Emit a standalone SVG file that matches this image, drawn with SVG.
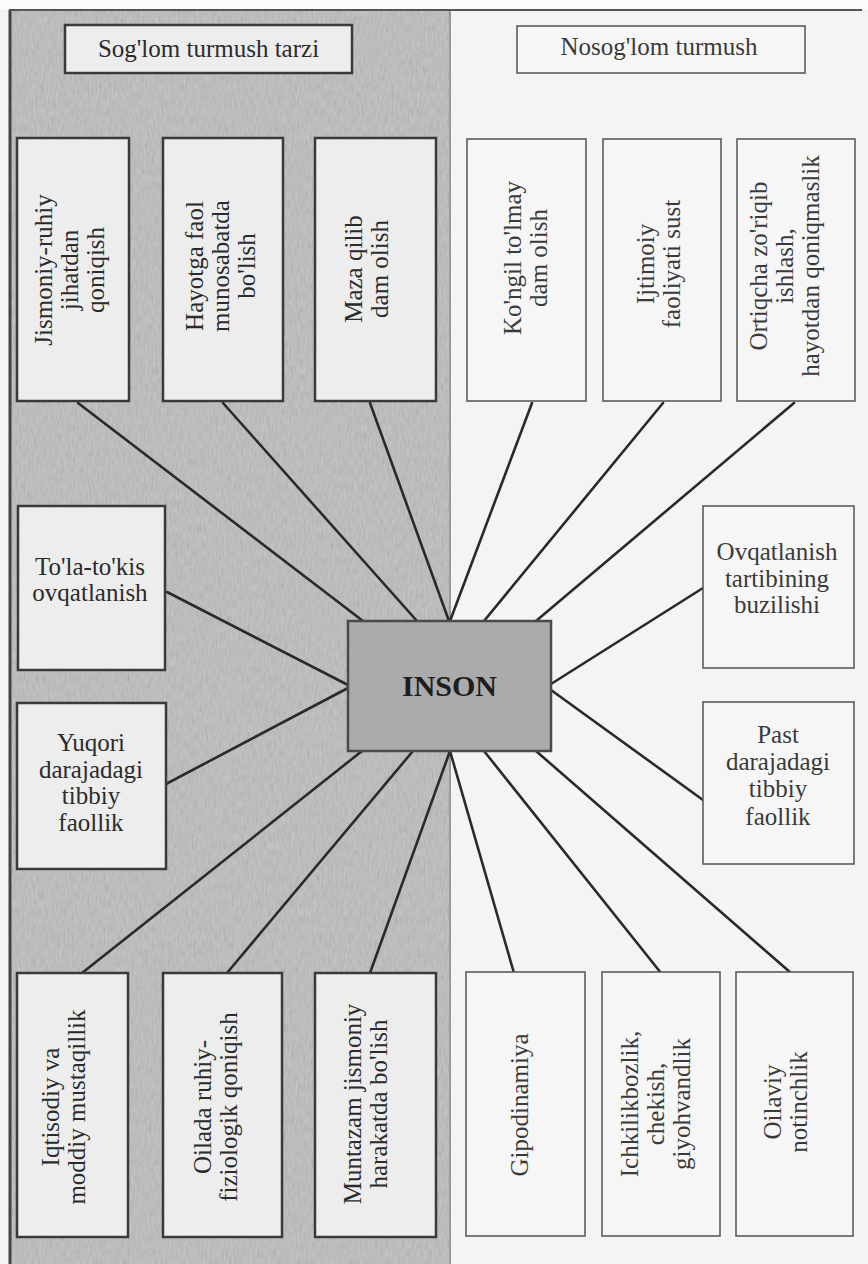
<svg xmlns="http://www.w3.org/2000/svg" width="868" height="1264" viewBox="0 0 868 1264">
<style>
.t{font-family:"Liberation Serif","Times New Roman",serif;font-size:25px;fill:#2b2b2b;text-anchor:middle}
.tr{fill:#3a3a3a}
.b{font-weight:bold;font-size:30px;fill:#1e1e1e}
.boxL{fill:#ededed;stroke:#3a3a3a;stroke-width:2.5}
.boxR{fill:#f6f6f6;stroke:#5c5c5c;stroke-width:1.6}
.core{fill:#ababab;stroke:#4a4a4a;stroke-width:2.5}
#connectors line{stroke:#2a2a2a;stroke-width:2.6;stroke-linecap:round}
</style>
<defs>
<filter id="grain" x="0" y="0" width="100%" height="100%">
<feTurbulence type="fractalNoise" baseFrequency="0.5 0.12" numOctaves="3" seed="7"/>
<feColorMatrix type="matrix" values="0.33 0.33 0.33 0 0 0.33 0.33 0.33 0 0 0.33 0.33 0.33 0 0 0 0 0 0 1"/>
</filter>
</defs>
<rect x="0" y="0" width="868" height="1264" fill="#f4f4f4"/>
<rect x="0" y="0" width="868" height="9" fill="#fbfbfb"/>
<g id="panel-left">
<rect x="9" y="10" width="442" height="1254" fill="#bdbdbd"/>
<rect x="9" y="10" width="442" height="1254" fill="#888" filter="url(#grain)" opacity="0.28"/>
<line x1="10" y1="10" x2="10" y2="1264" stroke="#444" stroke-width="3"/>
<line x1="450" y1="10" x2="450" y2="1264" stroke="#9a9a9a" stroke-width="2"/>
</g>
<line x1="9" y1="10" x2="862" y2="10" stroke="#555" stroke-width="2"/>

<g id="connectors">
<line x1="78" y1="403" x2="363" y2="621"/>
<line x1="223" y1="403" x2="417" y2="621"/>
<line x1="370" y1="403" x2="449" y2="621"/>
<line x1="532" y1="403" x2="450" y2="621"/>
<line x1="663" y1="403" x2="484" y2="621"/>
<line x1="794" y1="403" x2="536" y2="621"/>
<line x1="167" y1="592" x2="348" y2="685"/>
<line x1="166" y1="784" x2="348" y2="688"/>
<line x1="703" y1="588" x2="551" y2="684"/>
<line x1="551" y1="690" x2="703" y2="800"/>
<line x1="362" y1="751" x2="82" y2="973"/>
<line x1="413" y1="751" x2="227" y2="973"/>
<line x1="450" y1="751" x2="370" y2="973"/>
<line x1="450" y1="751" x2="514" y2="973"/>
<line x1="484" y1="751" x2="661" y2="973"/>
<line x1="536" y1="751" x2="791" y2="973"/>
</g>

<g id="title-left">
<rect class="boxL" x="65" y="25" width="287" height="48"/>
<text class="t" x="208.5" y="57">Sog'lom turmush tarzi</text>
</g>
<g id="title-right">
<rect class="boxR" x="517" y="26" width="288" height="47"/>
<text class="t tr" x="659" y="55">Nosog'lom turmush</text>
</g>

<g id="n-jismoniy">
<rect class="boxL" x="17" y="138" width="112" height="263"/>
<text class="t" transform="translate(73,270) rotate(-90)"><tspan x="0" y="-21">Jismoniy-ruhiy</tspan><tspan x="0" y="5">jihatdan</tspan><tspan x="0" y="31">qoniqish</tspan></text>
</g>
<g id="n-hayotga">
<rect class="boxL" x="163" y="138" width="120" height="263"/>
<text class="t" transform="translate(224,266) rotate(-90)"><tspan x="0" y="-21">Hayotga faol</tspan><tspan x="0" y="5">munosabatda</tspan><tspan x="0" y="31">bo'lish</tspan></text>
</g>
<g id="n-maza">
<rect class="boxL" x="315" y="138" width="121" height="263"/>
<text class="t" transform="translate(370,269) rotate(-90)"><tspan x="0" y="-8">Maza qilib</tspan><tspan x="0" y="18">dam olish</tspan></text>
</g>
<g id="n-kongil">
<rect class="boxR" x="467" y="139" width="119" height="262"/>
<text class="t tr" transform="translate(529,258) rotate(-90)"><tspan x="0" y="-8">Ko'ngil to'lmay</tspan><tspan x="0" y="18">dam olish</tspan></text>
</g>
<g id="n-ijtimoiy">
<rect class="boxR" x="603" y="139" width="118" height="262"/>
<text class="t tr" transform="translate(662,264) rotate(-90)"><tspan x="0" y="-8">Ijtimoiy</tspan><tspan x="0" y="18">faoliyati sust</tspan></text>
</g>
<g id="n-ortiqcha">
<rect class="boxR" x="737" y="139" width="118" height="262"/>
<text class="t tr" transform="translate(788,266) rotate(-90)"><tspan x="0" y="-21">Ortiqcha zo'riqib</tspan><tspan x="0" y="5">ishlash,</tspan><tspan x="0" y="31">hayotdan qoniqmaslik</tspan></text>
</g>

<g id="n-tola">
<rect class="boxL" x="18" y="506" width="147" height="164"/>
<text class="t"><tspan x="90" y="575">To'la-to'kis</tspan><tspan x="90" y="601">ovqatlanish</tspan></text>
</g>
<g id="n-yuqori">
<rect class="boxL" x="17" y="703" width="149" height="166"/>
<text class="t"><tspan x="91" y="751">Yuqori</tspan><tspan x="91" y="778">darajadagi</tspan><tspan x="91" y="804">tibbiy</tspan><tspan x="91" y="831">faollik</tspan></text>
</g>
<g id="n-ovqat">
<rect class="boxR" x="703" y="506" width="151" height="162"/>
<text class="t tr"><tspan x="777" y="560">Ovqatlanish</tspan><tspan x="777" y="587">tartibining</tspan><tspan x="777" y="613">buzilishi</tspan></text>
</g>
<g id="n-past">
<rect class="boxR" x="703" y="702" width="151" height="162"/>
<text class="t tr"><tspan x="778" y="743">Past</tspan><tspan x="778" y="770">darajadagi</tspan><tspan x="778" y="797">tibbiy</tspan><tspan x="778" y="825">faollik</tspan></text>
</g>

<g id="n-inson">
<rect class="core" x="348" y="621" width="203" height="130"/>
<text class="t b" x="449.5" y="696">INSON</text>
</g>

<g id="n-iqtisodiy">
<rect class="boxL" x="17" y="973" width="111" height="264"/>
<text class="t" transform="translate(67,1107) rotate(-90)"><tspan x="0" y="-8">Iqtisodiy va</tspan><tspan x="0" y="18">moddiy mustaqillik</tspan></text>
</g>
<g id="n-oilada">
<rect class="boxL" x="163" y="973" width="119" height="264"/>
<text class="t" transform="translate(219,1107) rotate(-90)"><tspan x="0" y="-8">Oilada ruhiy-</tspan><tspan x="0" y="18">fiziologik qoniqish</tspan></text>
</g>
<g id="n-muntazam">
<rect class="boxL" x="315" y="973" width="121" height="264"/>
<text class="t" transform="translate(369,1104) rotate(-90)"><tspan x="0" y="-8">Muntazam jismoniy</tspan><tspan x="0" y="18">harakatda bo'lish</tspan></text>
</g>
<g id="n-gipodinamiya">
<rect class="boxR" x="466" y="972" width="119" height="264"/>
<text class="t tr" transform="translate(523,1105) rotate(-90)"><tspan x="0" y="5">Gipodinamiya</tspan></text>
</g>
<g id="n-ichkilik">
<rect class="boxR" x="602" y="972" width="118" height="264"/>
<text class="t tr" transform="translate(659,1104) rotate(-90)"><tspan x="0" y="-21">Ichkilikbozlik,</tspan><tspan x="0" y="5">chekish,</tspan><tspan x="0" y="31">giyohvandlik</tspan></text>
</g>
<g id="n-oilaviy">
<rect class="boxR" x="736" y="972" width="117" height="264"/>
<text class="t tr" transform="translate(789,1102) rotate(-90)"><tspan x="0" y="-8">Oilaviy</tspan><tspan x="0" y="18">notinchlik</tspan></text>
</g>
</svg>
